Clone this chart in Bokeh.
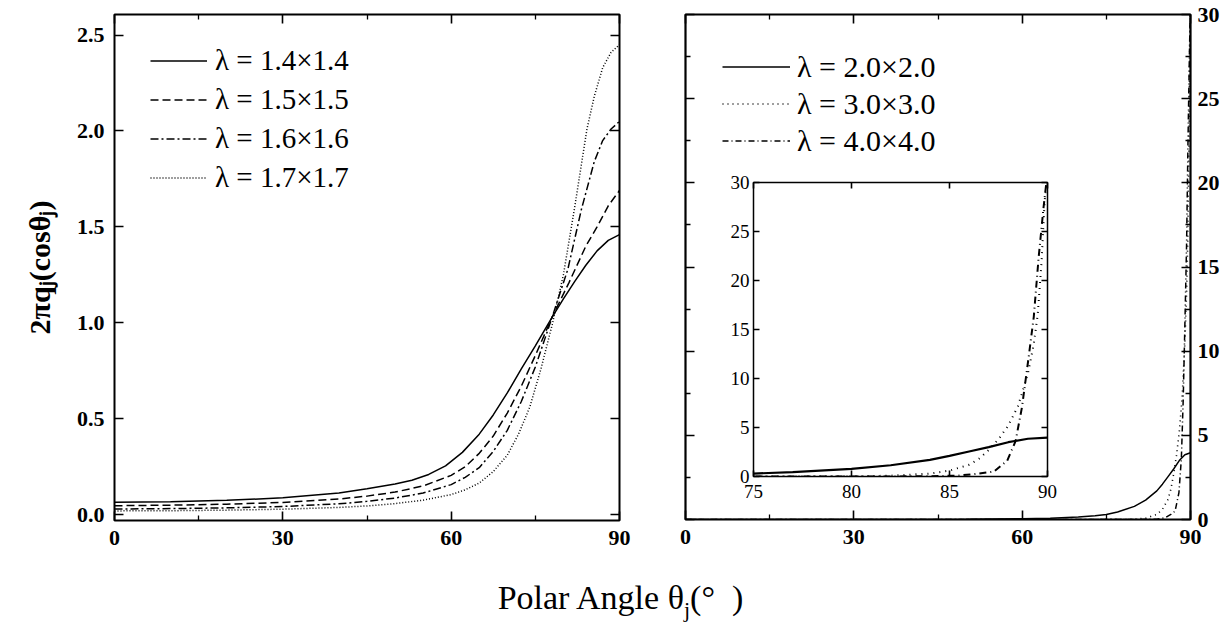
from bokeh.plotting import figure
from bokeh.models import (FixedTicker, LinearAxis, Legend, LegendItem, Div,
                          PrintfTickFormatter, CustomJSTickFormatter, Range1d)
from bokeh.layouts import row, column
from bokeh.embed import file_html
from bokeh.resources import INLINE

SERIF = "Liberation Serif"
LEGEND_FONT = "Times New Roman"

# ---------------- data ----------------
# left panel: lambda = 1.4 .. 1.7
theta_14 = [0, 10, 20, 30, 40, 45, 50, 53, 56, 59, 62, 65, 67.5, 70, 72.5, 75, 78, 80, 82, 84, 86, 88, 90]
q_14 = [0.065, 0.068, 0.075, 0.088, 0.113, 0.135, 0.16, 0.18, 0.21, 0.255, 0.325, 0.42, 0.52, 0.635, 0.76, 0.88,
        1.03, 1.125, 1.215, 1.30, 1.375, 1.43, 1.46]

theta_15 = [0, 10, 20, 30, 40, 45, 50, 55, 60, 62.5, 65, 67.5, 70, 72.5, 75, 78, 81, 84, 86, 88, 90]
q_15 = [0.047, 0.05, 0.055, 0.064, 0.082, 0.097, 0.118, 0.15, 0.205, 0.25, 0.32, 0.41, 0.53, 0.67, 0.83, 1.03,
        1.21, 1.40, 1.50, 1.61, 1.69]

theta_16 = [0, 10, 20, 30, 40, 45, 50, 55, 60, 62.5, 65, 67.5, 70, 72.5, 75, 78, 80.8, 83.2, 85.5, 87, 88.5, 90]
q_16 = [0.03, 0.032, 0.036, 0.043, 0.057, 0.07, 0.087, 0.113, 0.157, 0.195, 0.245, 0.33, 0.44, 0.59, 0.77, 1.03,
        1.28, 1.59, 1.84, 1.95, 2.01, 2.05]

theta_17 = [0, 10, 20, 30, 40, 45, 50, 55, 60, 62.5, 65, 67.5, 70, 72, 74, 76, 78, 80, 82, 84.2, 85.5, 87, 88.5, 90]
q_17 = [0.02, 0.021, 0.024, 0.029, 0.038, 0.046, 0.058, 0.076, 0.105, 0.13, 0.165, 0.225, 0.31, 0.42, 0.56, 0.76,
        0.99, 1.25, 1.6, 2.01, 2.18, 2.33, 2.41, 2.45]

labels_left = ["λ = 1.4×1.4", "λ = 1.5×1.5", "λ = 1.6×1.6", "λ = 1.7×1.7"]

# right panel (and inset): lambda = 2.0, 3.0, 4.0
theta_20 = [0, 30, 50, 60, 65, 70, 73, 75, 77, 80, 82, 84, 85, 86, 87, 88, 89, 90]
q_20 = [0.0, 0.005, 0.02, 0.05, 0.08, 0.15, 0.22, 0.3, 0.45, 0.78, 1.15, 1.7, 2.1, 2.55, 3.0, 3.5, 3.85, 3.97]

theta_30 = [0, 60, 75, 80, 82, 84, 85, 86, 86.5, 87, 87.5, 88, 88.5, 89, 89.3, 89.5, 89.7, 89.85, 90]
q_30 = [0, 0.0, 0.005, 0.02, 0.08, 0.3, 0.6, 1.2, 1.8, 2.7, 3.8, 5.2, 7.2, 10.5, 13.5, 16.5, 22, 28, 31]

theta_40 = [0, 60, 80, 84, 85.5, 86.5, 87.26, 87.94, 88.37, 88.7, 89.04, 89.3, 89.55, 89.8, 90]
q_40 = [0, 0, 0.0, 0.02, 0.1, 0.3, 0.5, 1.6, 3.6, 7.1, 12.2, 16.3, 22.4, 27.5, 31]

labels_right = ["λ = 2.0×2.0", "λ = 3.0×3.0", "λ = 4.0×4.0"]

x_ticks = [0, 30, 60, 90]
x_minor = [15, 45, 75]
left_y_ticks = [0, 0.5, 1.0, 1.5, 2.0, 2.5]
right_y_ticks = [0, 5, 10, 15, 20, 25, 30]
right_y_minor = [2.5, 7.5, 12.5, 17.5, 22.5, 27.5]
inset_x_ticks = [75, 80, 85, 90]
inset_y_ticks = [0, 5, 10, 15, 20, 25, 30]


def style_axis(ax, ticks, minor, labels=True, bold=True, size="22px",
               tick_in=9, minor_in=5, standoff=10):
    ax.ticker = FixedTicker(ticks=ticks, minor_ticks=minor)
    ax.axis_line_color = None
    ax.major_tick_in = tick_in
    ax.major_tick_out = 0
    ax.minor_tick_in = minor_in
    ax.minor_tick_out = 0
    ax.major_tick_line_width = 1.6
    ax.minor_tick_line_width = 1.3
    ax.major_tick_line_color = "black"
    ax.minor_tick_line_color = "black"
    ax.major_label_standoff = standoff
    ax.major_label_text_font = SERIF
    ax.major_label_text_font_style = "bold" if bold else "normal"
    ax.major_label_text_font_size = size
    ax.major_label_text_color = "black"
    if not labels:
        ax.formatter = CustomJSTickFormatter(code="return ''")
        ax.major_label_standoff = 0
        ax.major_label_text_font_size = "1px"


# ---------------- left panel ----------------
left = figure(frame_width=505, frame_height=506,
              x_range=Range1d(0, 90), y_range=Range1d(-0.03, 2.607),
              min_border_left=106, min_border_right=21,
              min_border_top=12, min_border_bottom=36,
              output_backend="svg", toolbar_location=None)
left.grid.visible = False
left.outline_line_color = "black"
left.outline_line_width = 2
left.background_fill_color = "white"
left.border_fill_color = "white"

style_axis(left.xaxis[0], x_ticks, x_minor)
style_axis(left.yaxis[0], left_y_ticks, [])
left.yaxis[0].formatter = PrintfTickFormatter(format="%.1f")
left.yaxis[0].axis_label = "2πqⱼ(cosθⱼ)"
left.yaxis[0].axis_label_text_font = SERIF
left.yaxis[0].axis_label_text_font_style = "bold"
left.yaxis[0].axis_label_text_font_size = "30px"
left.yaxis[0].axis_label_standoff = 18
left.yaxis[0].axis_label_text_color = "black"

top_l = LinearAxis()
style_axis(top_l, x_ticks, x_minor, labels=False)
left.add_layout(top_l, "above")
right_l = LinearAxis()
style_axis(right_l, left_y_ticks, [], labels=False)
left.add_layout(right_l, "right")

r14 = left.line(theta_14, q_14, line_color="black", line_width=1.5)
r15 = left.line(theta_15, q_15, line_color="black", line_width=1.5, line_dash="8 4")
r16 = left.line(theta_16, q_16, line_color="black", line_width=1.5, line_dash="8 3 2 3")
r17 = left.line(theta_17, q_17, line_color="black", line_width=1.5, line_dash="1 2")

leg_l = Legend(items=[LegendItem(label=lab, renderers=[r])
                      for lab, r in zip(labels_left, [r14, r15, r16, r17])],
               location=(36, 323), glyph_width=57, glyph_height=39,
               label_height=39, label_standoff=8, padding=0, margin=0, spacing=0,
               border_line_color=None, background_fill_alpha=0,
               label_text_font=LEGEND_FONT, label_text_font_size="29px",
               label_text_color="black")
left.add_layout(leg_l)

# ---------------- right panel ----------------
right = figure(frame_width=505, frame_height=505,
               x_range=Range1d(0, 90), y_range=Range1d(0, 30),
               y_axis_location="right",
               min_border_left=45, min_border_right=32,
               min_border_top=14, min_border_bottom=35,
               output_backend="svg", toolbar_location=None)
right.grid.visible = False
right.outline_line_color = "black"
right.outline_line_width = 2.2
right.background_fill_color = "white"
right.border_fill_color = "white"

style_axis(right.xaxis[0], x_ticks, x_minor)
style_axis(right.yaxis[0], right_y_ticks, right_y_minor, standoff=7)
top_r = LinearAxis()
style_axis(top_r, x_ticks, x_minor, labels=False)
right.add_layout(top_r, "above")
left_r = LinearAxis()
style_axis(left_r, right_y_ticks, right_y_minor, labels=False)
right.add_layout(left_r, "left")

r20 = right.line(theta_20, q_20, line_color="black", line_width=1.5)
r30 = right.line(theta_30, q_30, line_color="black", line_width=1.6, line_dash="1 4")
r40 = right.line(theta_40, q_40, line_color="black", line_width=1.5, line_dash="6 3 1 3")

leg_r = Legend(items=[LegendItem(label=lab, renderers=[r])
                      for lab, r in zip(labels_right, [r20, r30, r40])],
               location=(37, 360), glyph_width=68, glyph_height=37,
               label_height=37, label_standoff=7, padding=0, margin=0, spacing=0,
               border_line_color=None, background_fill_alpha=0,
               label_text_font=LEGEND_FONT, label_text_font_size="30px",
               label_text_color="black")
right.add_layout(leg_r)

# ---------------- inset ----------------
inset = figure(frame_width=294, frame_height=294,
               x_range=Range1d(75, 90), y_range=Range1d(0, 30),
               min_border_left=30, min_border_right=14,
               min_border_top=14, min_border_bottom=28,
               output_backend="svg", toolbar_location=None)
inset.grid.visible = False
inset.outline_line_color = "black"
inset.outline_line_width = 1.5
inset.background_fill_color = "white"
inset.border_fill_alpha = 0

style_axis(inset.xaxis[0], inset_x_ticks, [], bold=False, size="19px",
           tick_in=6, standoff=8)
style_axis(inset.yaxis[0], inset_y_ticks, [], bold=False, size="19px",
           tick_in=6, standoff=4)
top_i = LinearAxis()
style_axis(top_i, inset_x_ticks, [], labels=False, tick_in=6)
inset.add_layout(top_i, "above")
right_i = LinearAxis()
style_axis(right_i, inset_y_ticks, [], labels=False, tick_in=6)
inset.add_layout(right_i, "right")

inset.line(theta_20, q_20, line_color="black", line_width=2.2)
inset.line(theta_30, q_30, line_color="black", line_width=2.0, line_dash="1 5")
inset.line(theta_40, q_40, line_color="black", line_width=2.0, line_dash="7 4 1 4")

inset.margin = (168, 0, 0, -499)

xlabel = Div(text=("<div style=\"width:1215px;text-align:center;font-family:'Liberation Serif';"
                   "font-size:34px;color:black;padding-top:15px;white-space:pre;\">"
                   "Polar Angle θ<sub style='font-size:22px'>j</sub>(°&nbsp;&nbsp;)</div>"),
             width=1215, height=60)

page = column(row(left, right, inset), xlabel)
page.margin = (0, 0, 0, 8)
open("out.html", "w").write(file_html(page, INLINE))
